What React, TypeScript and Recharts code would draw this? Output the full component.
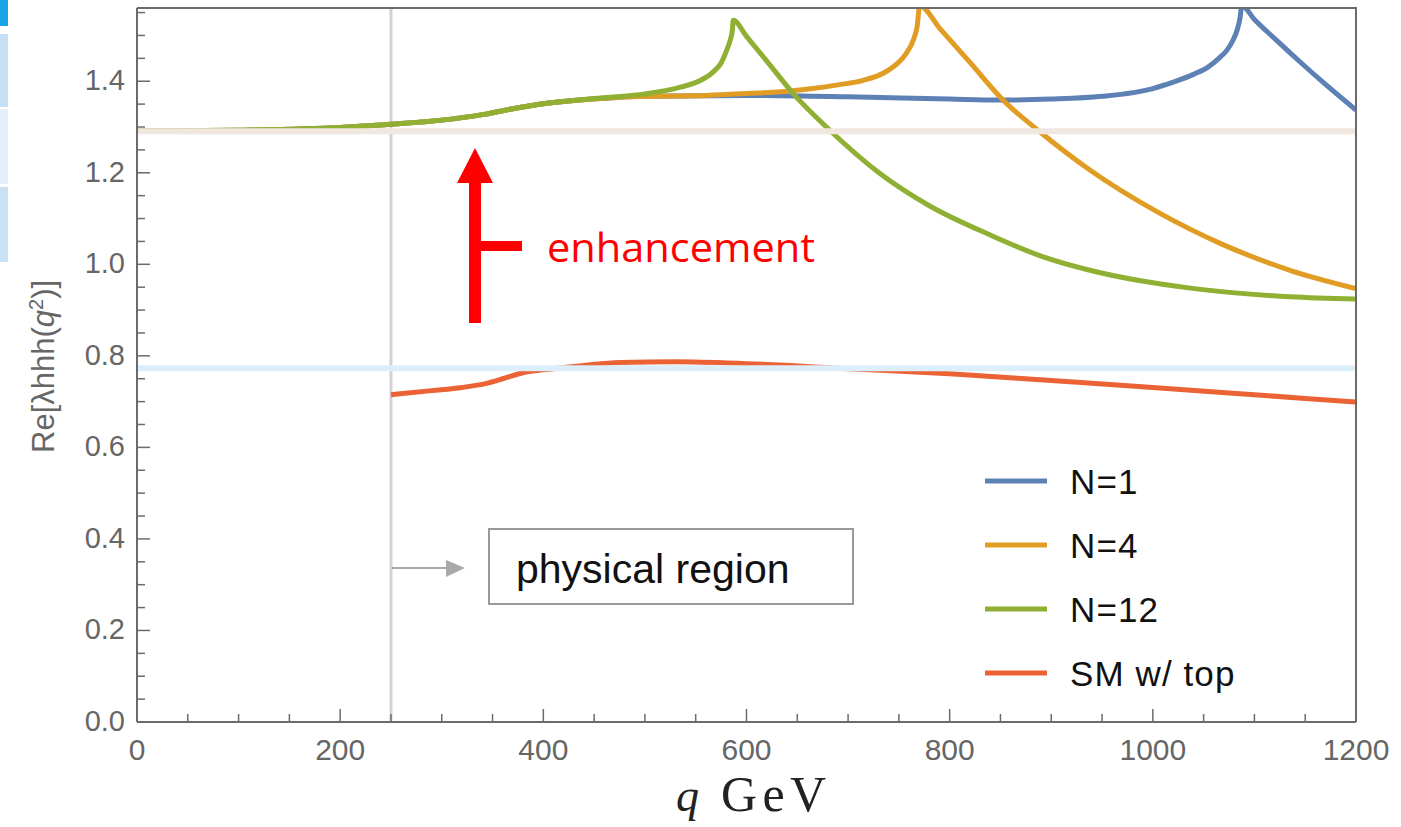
import React from "react";
import { LineChart, Line, XAxis, YAxis, ReferenceLine } from "recharts";

// q in GeV, value = Re[lambda_hhh(q^2)]
const qN1 = [0, 100, 200, 250, 300, 340, 370, 400, 430, 460, 500, 600, 700, 800, 850, 900, 950, 1000, 1020, 1040, 1055, 1065, 1073, 1079, 1083, 1086, 1087.5, 1100, 1120, 1145, 1170, 1200];
const vN1 = [1.291, 1.293, 1.299, 1.306, 1.315, 1.327, 1.34, 1.351, 1.358, 1.363, 1.367, 1.369, 1.366, 1.361, 1.359, 1.361, 1.367, 1.384, 1.398, 1.415, 1.432, 1.45, 1.468, 1.49, 1.512, 1.54, 1.565, 1.535, 1.493, 1.442, 1.393, 1.337];

const qN4 = [0, 100, 200, 250, 300, 340, 370, 400, 430, 460, 500, 560, 600, 640, 665, 690, 715, 735, 748, 757, 764, 768, 770.5, 790, 820, 853, 889, 938, 1004, 1069, 1135, 1200];
const vN4 = [1.291, 1.293, 1.299, 1.306, 1.315, 1.327, 1.34, 1.351, 1.358, 1.363, 1.367, 1.369, 1.373, 1.378, 1.384, 1.392, 1.402, 1.418, 1.438, 1.46, 1.489, 1.52, 1.565, 1.516, 1.441, 1.358, 1.289, 1.206, 1.115, 1.043, 0.987, 0.947];

const qN12 = [0, 100, 200, 250, 300, 340, 370, 400, 430, 460, 500, 535, 555, 567, 575, 580.5, 584, 586, 587, 600, 620, 646, 682, 731, 780, 840, 890, 938, 985, 1037, 1135, 1200];
const vN12 = [1.291, 1.293, 1.299, 1.306, 1.315, 1.327, 1.34, 1.351, 1.358, 1.364, 1.372, 1.387, 1.402, 1.42, 1.44, 1.468, 1.49, 1.51, 1.533, 1.498, 1.444, 1.373, 1.293, 1.199, 1.128, 1.064, 1.018, 0.987, 0.965, 0.948, 0.929, 0.924];

const qSM = [250, 290, 320, 344, 360, 377, 410, 440, 475, 530, 600, 700, 800, 900, 1000, 1100, 1200];
const vSM = [0.715, 0.724, 0.731, 0.74, 0.75, 0.7615, 0.772, 0.779, 0.7855, 0.787, 0.783, 0.772, 0.761, 0.746, 0.731, 0.715, 0.699];

const seriesNames = ["N=1", "N=4", "N=12", "SM w/ top"];
const seriesColors = ["#5E81B5", "#E19C24", "#8FB032", "#EB6235"];

const xTicks = [0, 50, 100, 150, 200, 250, 300, 350, 400, 450, 500, 550, 600, 650, 700, 750, 800, 850, 900, 950, 1000, 1050, 1100, 1150, 1200];
const xMajor = [0, 200, 400, 600, 800, 1000, 1200];
const yTicks = [0, 0.05, 0.1, 0.15, 0.2, 0.25, 0.3, 0.35, 0.4, 0.45, 0.5, 0.55, 0.6, 0.65, 0.7, 0.75, 0.8, 0.85, 0.9, 0.95, 1.0, 1.05, 1.1, 1.15, 1.2, 1.25, 1.3, 1.35, 1.4, 1.45, 1.5, 1.55];

const xDomain = [0, 1200];
const yDomain = [0, 1.56];
const tanhLevel = 1.2907; // beige reference
const smLevel = 0.773; // light blue reference
const physicalStart = 250;

const zip = (q: number[], v: number[]) => q.map((x, i) => ({ q: x, v: v[i] }));
const allData = [zip(qN1, vN1), zip(qN4, vN4), zip(qN12, vN12), zip(qSM, vSM)];

const FONT = "'Liberation Sans', Arial, sans-serif";
const SERIF = "'Liberation Serif', 'Times New Roman', serif";
const TICK = "#6b6b6b";
const LABEL = "#666";

const isMajorY = (v: number) => Math.abs(v * 5 - Math.round(v * 5)) < 1e-6;

function BottomTick(props: any) {
  const { x, y, payload } = props;
  const major = xMajor.includes(payload.value);
  return (
    <g>
      <line x1={x} x2={x} y1={y} y2={y - (major ? 13 : 8)} stroke={TICK} strokeWidth={1.5} />
      {major && (
        <text x={x} y={y + 38} textAnchor="middle" fontSize={30} fill={LABEL} fontFamily={FONT}>
          {payload.value}
        </text>
      )}
    </g>
  );
}

function TopTick(props: any) {
  const { x, y, payload } = props;
  const major = xMajor.includes(payload.value);
  return <line x1={x} x2={x} y1={y} y2={y + (major ? 13 : 8)} stroke={TICK} strokeWidth={1.5} />;
}

function LeftTick(props: any) {
  const { x, y, payload } = props;
  const major = isMajorY(payload.value);
  return (
    <g>
      <line x1={x} x2={x + (major ? 13 : 8)} y1={y} y2={y} stroke={TICK} strokeWidth={1.5} />
      {major && (
        <text x={x - 12} y={y + 9} textAnchor="end" fontSize={29} fill={LABEL} fontFamily={FONT}>
          {payload.value.toFixed(1)}
        </text>
      )}
    </g>
  );
}

function RightTick(props: any) {
  const { x, y, payload } = props;
  const major = isMajorY(payload.value);
  return <line x1={x} x2={x - (major ? 13 : 8)} y1={y} y2={y} stroke={TICK} strokeWidth={1.5} />;
}

function Overlay() {
  return (
    <svg width={1401} height={827} style={{ position: "absolute", left: 0, top: 0, pointerEvents: "none" }}>
      {/* cropped UI remnants at the left edge */}
      <rect x={0} y={0} width={8} height={26} fill="#1AA3E8" />
      <rect x={0} y={34} width={8} height={73} fill="#C6DFF5" />
      <rect x={0} y={109} width={8} height={75} fill="#E4EFF9" />
      <rect x={0} y={187} width={8} height={75} fill="#C9E1F5" />

      {/* frame: top and right edges */}
      <line x1={137} x2={1357} y1={8} y2={8} stroke={TICK} strokeWidth={2} />
      <line x1={1356} x2={1356} y1={7} y2={722} stroke={TICK} strokeWidth={2} />

      {/* axis titles */}
      <text transform="translate(54,453) rotate(-90)" fontSize={31} fill={LABEL} fontFamily={FONT}>
        Re[λhhh(<tspan fontStyle="italic">q</tspan>
        <tspan dy={-11} fontSize={20}>2</tspan>
        <tspan dy={11}>)]</tspan>
      </text>
      <text x={676} y={811} fontSize={46} fill="#222" fontFamily={SERIF} fontStyle="italic">
        q
      </text>
      <text x={721} y={811} fontSize={50} fill="#222" fontFamily={SERIF} textLength={105} lengthAdjust="spacing">
        GeV
      </text>

      {/* enhancement arrow */}
      <rect x={469} y={182} width={12} height={141} fill="#FF0000" />
      <polygon points="457,183 493,183 475,148" fill="#FF0000" />
      <rect x={480} y={241} width={42} height={10} fill="#FF0000" />
      <text x={547} y={262} fontSize={41} fill="#FF0000" fontFamily="'Open Sans', sans-serif" textLength={268} lengthAdjust="spacingAndGlyphs">
        enhancement
      </text>

      {/* physical region */}
      <line x1={392} x2={448} y1={568} y2={568} stroke="#A9A9A9" strokeWidth={2} />
      <polygon points="446,560 465,568 446,577" fill="#A9A9A9" />
      <rect x={489} y={529} width={364} height={75} fill="none" stroke="#9A9A9A" strokeWidth={2} />
      <text x={516} y={583} fontSize={41} fill="#111" fontFamily={FONT}>
        physical region
      </text>

      {/* legend */}
      {seriesNames.map((name, i) => {
        const cy = 481 + i * 64;
        return (
          <g key={name}>
            <line x1={985} x2={1047} y1={cy} y2={cy} stroke={seriesColors[i]} strokeWidth={5} />
            <text x={1070} y={cy + 13} fontSize={35} letterSpacing={1.1} fill="#111" fontFamily={FONT}>
              {name}
            </text>
          </g>
        );
      })}
    </svg>
  );
}

export default function App() {
  return (
    <div style={{ position: "absolute", left: 0, top: 0, width: 1401, height: 827, background: "#fff" }}>
      <LineChart width={1401} height={827} margin={{ top: 8, right: 45, bottom: 45, left: 77 }}>
        <XAxis
          xAxisId={0}
          dataKey="q"
          type="number"
          domain={xDomain}
          ticks={xTicks}
          interval={0}
          allowDataOverflow
          height={60}
          tickSize={0}
          tickMargin={0}
          axisLine={{ stroke: TICK, strokeWidth: 2 }}
          tickLine={false}
          tick={<BottomTick />}
        />
        <XAxis
          xAxisId="top"
          orientation="top"
          dataKey="q"
          type="number"
          domain={xDomain}
          ticks={xTicks}
          interval={0}
          allowDataOverflow
          height={0}
          tickSize={0}
          tickMargin={0}
          axisLine={false}
          tickLine={false}
          tick={<TopTick />}
        />
        <YAxis
          yAxisId={0}
          type="number"
          domain={yDomain}
          ticks={yTicks}
          interval={0}
          allowDataOverflow
          width={60}
          tickSize={0}
          tickMargin={0}
          axisLine={{ stroke: TICK, strokeWidth: 2 }}
          tickLine={false}
          tick={<LeftTick />}
        />
        <YAxis
          yAxisId="right"
          orientation="right"
          type="number"
          domain={yDomain}
          ticks={yTicks}
          interval={0}
          allowDataOverflow
          width={0}
          tickSize={0}
          tickMargin={0}
          axisLine={false}
          tickLine={false}
          tick={<RightTick />}
        />
        <ReferenceLine x={physicalStart} stroke="#D2D2D2" strokeWidth={3} />
        {allData.map((d, i) => (
          <Line
            key={seriesNames[i]}
            data={d}
            dataKey="v"
            name={seriesNames[i]}
            type="monotone"
            stroke={seriesColors[i]}
            strokeWidth={5}
            dot={false}
            activeDot={false}
            isAnimationActive={false}
          />
        ))}
        <ReferenceLine y={tanhLevel} stroke="#F0E7E1" strokeWidth={6} />
        <ReferenceLine y={smLevel} stroke="#DDEEFB" strokeWidth={6} />
      </LineChart>
      <Overlay />
    </div>
  );
}
